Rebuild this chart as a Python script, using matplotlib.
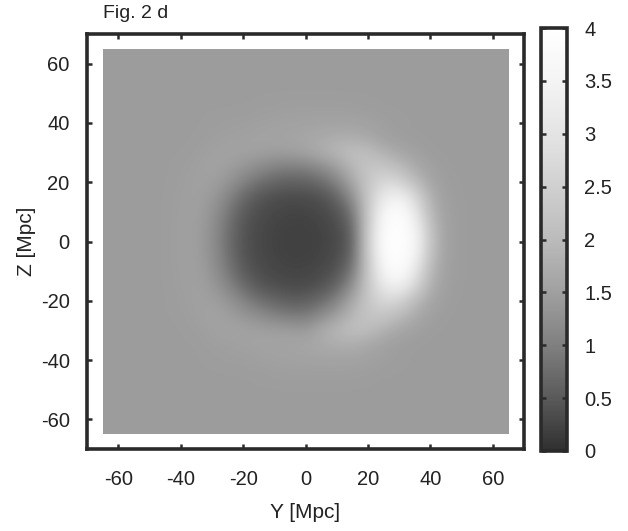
#!/usr/bin/env python
import numpy as np
import matplotlib
matplotlib.use("Agg")
import matplotlib.pyplot as plt
from matplotlib.colors import LinearSegmentedColormap
from matplotlib.patches import Rectangle

plt.rcParams["font.family"] = ["Liberation Sans", "DejaVu Sans"]
plt.rcParams["axes.unicode_minus"] = False

# values on a 5 Mpc grid, top row is Z = 65, first column Y = -65
bg = 1.45
density = [
    [bg]*27,
    [bg]*27,
    [bg]*27,
    [bg]*27,
    [bg]*10 + [1.46, 1.47, 1.48, 1.48, 1.48, 1.48, 1.47, 1.46] + [bg]*9,
    [bg]*7 + [1.46, 1.47, 1.48, 1.5, 1.52, 1.53, 1.54, 1.55, 1.55, 1.55, 1.52, 1.48, 1.46] + [bg]*7,
    [bg]*7 + [1.48, 1.5, 1.52, 1.55, 1.56, 1.6, 1.62, 1.68, 1.74, 1.74, 1.64, 1.52, 1.46, 1.45] + [bg]*6,
    [bg]*6 + [1.47, 1.52, 1.55, 1.55, 1.52, 1.5, 1.5, 1.6, 1.75, 1.95, 2.1, 2.05, 1.8, 1.62, 1.5, 1.45] + [bg]*5,
    [bg]*5 + [1.46, 1.5, 1.55, 1.5, 1.35, 1.2, 1.05, 1.0, 1.03, 1.2, 1.5, 1.95, 2.25, 2.25, 2.0, 1.7, 1.5, 1.45] + [bg]*4,
    [bg]*5 + [1.47, 1.52, 1.5, 1.35, 1.05, 0.8, 0.66, 0.6, 0.62, 0.75, 1.05, 1.65, 2.3, 2.7, 2.6, 2.0, 1.6, 1.46] + [bg]*4,
    [bg]*5 + [1.48, 1.52, 1.42, 1.1, 0.72, 0.47, 0.38, 0.34, 0.35, 0.42, 0.65, 1.25, 2.3, 3.2, 3.4, 2.7, 1.75, 1.48] + [bg]*4,
    [bg]*5 + [1.49, 1.52, 1.32, 0.92, 0.52, 0.36, 0.28, 0.25, 0.25, 0.3, 0.43, 0.88, 2.3, 3.6, 3.95, 3.1, 1.9, 1.5] + [bg]*4,
    [bg]*5 + [1.5, 1.5, 1.27, 0.82, 0.44, 0.31, 0.24, 0.21, 0.21, 0.25, 0.35, 0.66, 2.35, 3.85, 4.0, 3.5, 2.05, 1.5] + [bg]*4,
    [bg]*5 + [1.5, 1.5, 1.25, 0.78, 0.42, 0.3, 0.23, 0.2, 0.2, 0.23, 0.31, 0.58, 2.4, 3.95, 4.0, 3.65, 2.15, 1.5] + [bg]*4,
    [bg]*5 + [1.5, 1.5, 1.27, 0.82, 0.44, 0.31, 0.24, 0.21, 0.21, 0.25, 0.35, 0.66, 2.35, 3.85, 4.0, 3.5, 2.05, 1.5] + [bg]*4,
    [bg]*5 + [1.49, 1.52, 1.32, 0.92, 0.52, 0.36, 0.28, 0.25, 0.25, 0.3, 0.43, 0.88, 2.3, 3.6, 3.95, 3.1, 1.9, 1.5] + [bg]*4,
    [bg]*5 + [1.48, 1.52, 1.42, 1.1, 0.72, 0.47, 0.38, 0.32, 0.33, 0.42, 0.65, 1.25, 2.3, 3.2, 3.4, 2.7, 1.75, 1.48] + [bg]*4,
    [bg]*5 + [1.47, 1.52, 1.5, 1.35, 1.05, 0.8, 0.64, 0.56, 0.56, 0.73, 1.05, 1.65, 2.3, 2.7, 2.6, 2.0, 1.6, 1.46] + [bg]*4,
    [bg]*5 + [1.46, 1.5, 1.55, 1.5, 1.35, 1.2, 1.03, 0.93, 0.93, 1.18, 1.5, 1.95, 2.25, 2.25, 2.0, 1.7, 1.5, 1.45] + [bg]*4,
    [bg]*6 + [1.47, 1.52, 1.55, 1.55, 1.52, 1.5, 1.48, 1.42, 1.7, 1.95, 2.1, 2.05, 1.8, 1.62, 1.5, 1.45] + [bg]*5,
    [bg]*7 + [1.48, 1.5, 1.52, 1.55, 1.56, 1.6, 1.62, 1.68, 1.74, 1.74, 1.64, 1.52, 1.46, 1.45] + [bg]*6,
    [bg]*7 + [1.46, 1.47, 1.48, 1.5, 1.52, 1.53, 1.54, 1.55, 1.55, 1.55, 1.52, 1.48, 1.46] + [bg]*7,
    [bg]*10 + [1.46, 1.47, 1.48, 1.48, 1.48, 1.48, 1.47, 1.46] + [bg]*9,
    [bg]*27,
    [bg]*27,
    [bg]*27,
    [bg]*27,
]
ticks = [-60, -40, -20, 0, 20, 40, 60]
cbar_ticks = [0, 0.5, 1, 1.5, 2, 2.5, 3, 3.5, 4]
cbar_labels = ["0", "0.5", "1", "1.5", "2", "2.5", "3", "3.5", "4"]

# grey ramp seen on the colour bar
gray_stops = [(0, "#303030"), (0.125, "#5a5a5a"), (0.25, "#808080"), (0.375, "#a0a0a0"),
              (0.5, "#bbbbbb"), (0.625, "#d0d0d0"), (0.75, "#e4e4e4"), (0.875, "#f4f4f4"), (1, "#ffffff")]
cmap = LinearSegmentedColormap.from_list("bar", gray_stops)

ink = "#2a2a2a"
text_col = "#222222"
W, H = 628.0, 531.0
fig = plt.figure(figsize=(6.28, 5.31), dpi=100)
ax = fig.add_axes([87/W, 1-449/H, (524-87)/W, (449-34)/H])
cax = fig.add_axes([541/W, 1-451/H, (567-541)/W, (451-28)/H])

im = ax.imshow(np.array(density), cmap=cmap, vmin=0, vmax=4, extent=(-67.5, 67.5, -67.5, 67.5),
               interpolation="bicubic", aspect="auto")
im.set_clip_path(Rectangle((-65, -65), 130, 130, transform=ax.transData))
ax.set_xlim(-70, 70)
ax.set_ylim(-70, 70)
ax.set_xticks(ticks)
ax.set_yticks(ticks)
ax.tick_params(direction="in", length=3.5, width=1.8, color=ink, top=True, right=True,
               labelsize=14.5, labelcolor=text_col)
ax.tick_params(axis="x", pad=15)
ax.tick_params(axis="y", pad=12.5)
ax.set_xlabel("Y [Mpc]", fontsize=15, color=text_col, labelpad=10)
ax.set_ylabel("Z [Mpc]", fontsize=15, color=text_col, labelpad=3)
ax.set_title("Fig. 2 d", fontsize=14, color=text_col, loc="left", x=0.036, pad=11.5)

cb = fig.colorbar(im, cax=cax)
cb.set_ticks(cbar_ticks, labels=cbar_labels)
cax.tick_params(direction="in", length=3.5, width=1.8, color=ink, left=True, right=True,
                labelsize=14.5, labelcolor=text_col, pad=12.5)
cb.outline.set_linewidth(2.6)
cb.outline.set_edgecolor(ink)
for side in ax.spines.values():
    side.set_linewidth(2.6)
    side.set_color(ink)

fig.savefig("out.png", dpi=100)
